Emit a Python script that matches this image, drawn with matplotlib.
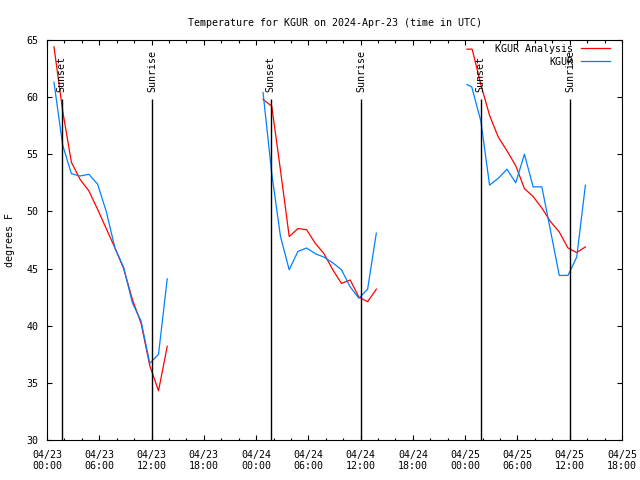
import matplotlib
matplotlib.use('Agg')
import matplotlib.pyplot as plt
import numpy as np
from matplotlib.ticker import MultipleLocator

# ---- data (hours since 2024-04-23 00:00 UTC) ----
nan = np.nan
analysis_hours = [0.8, 1.8, 2.8, 3.8, 4.8, 5.8, 6.8, 7.8, 8.8, 9.8, 10.8, 11.8, 12.8, 13.8, nan,
                  24.8, 25.8, 26.8, 27.8, 28.8, 29.8, 30.8, 31.8, 32.8, 33.8, 34.8, 35.8, 36.8, 37.8, nan,
                  48.2, 48.8, 49.8, 50.8, 51.8, 52.8, 53.8, 54.8, 55.8, 56.8, 57.8, 58.8, 59.8, 60.8, 61.8]
analysis_temp = [64.4, 58.8, 54.3, 52.8, 51.8, 50.2, 48.5, 46.8, 45.0, 42.3, 40.2, 36.5, 34.3, 38.2, nan,
                 59.8, 59.2, 53.6, 47.8, 48.5, 48.4, 47.2, 46.3, 44.9, 43.7, 44.0, 42.5, 42.1, 43.2, nan,
                 64.2, 64.2, 61.1, 58.4, 56.5, 55.3, 54.0, 52.0, 51.3, 50.3, 49.1, 48.2, 46.8, 46.4, 46.9]

obs_hours = [0.8, 1.8, 2.8, 3.8, 4.8, 5.8, 6.8, 7.8, 8.8, 9.8, 10.8, 11.8, 12.8, 13.8, nan,
             24.8, 25.8, 26.8, 27.8, 28.8, 29.8, 30.8, 31.8, 32.8, 33.8, 34.8, 35.8, 36.8, 37.8, nan,
             48.2, 48.75, 49.8, 50.8, 51.8, 52.8, 53.8, 54.8, 55.8, 56.8, 57.8, 58.8, 59.8, 60.8, 61.8]
obs_temp = [61.3, 55.8, 53.3, 53.1, 53.25, 52.4, 50.0, 46.8, 45.1, 42.0, 40.4, 36.7, 37.5, 44.1, nan,
            60.4, 53.3, 47.8, 44.9, 46.5, 46.8, 46.3, 46.0, 45.5, 44.9, 43.4, 42.4, 43.2, 48.1, nan,
            61.1, 60.9, 57.9, 52.3, 52.9, 53.7, 52.5, 55.0, 52.15, 52.15, 48.3, 44.4, 44.4, 46.0, 52.3]

sunset_hours = [1.7, 25.68, 49.78]
sunrise_hours = [12.05, 36.05, 60.02]

tick_hours = [0, 6, 12, 18, 24, 30, 36, 42, 48, 54, 60, 66]
tick_labels = ['04/23\n00:00', '04/23\n06:00', '04/23\n12:00', '04/23\n18:00',
               '04/24\n00:00', '04/24\n06:00', '04/24\n12:00', '04/24\n18:00',
               '04/25\n00:00', '04/25\n06:00', '04/25\n12:00', '04/25\n18:00']
y_ticks = [30, 35, 40, 45, 50, 55, 60, 65]

# ---- style ----
plt.rcParams['font.family'] = ['DejaVu Sans Mono', 'DejaVu Sans']
FS = 7.2

fig = plt.figure(figsize=(6.4, 4.8), dpi=100)
ax = fig.add_axes([47/640, 40/480, 575/640, 400/480])

ax.plot(analysis_hours, analysis_temp, color='#ff0000', lw=0.9, label='KGUR Analysis')
ax.plot(obs_hours, obs_temp, color='#0080ff', lw=0.9, label='KGUR')

ax.vlines(sunset_hours + sunrise_hours, 30, 59.85, colors='black', lw=1.0)
for h in sunset_hours:
    ax.text(h, 60.45, 'Sunset', rotation=90, ha='center', va='bottom', fontsize=FS)
for h in sunrise_hours:
    ax.text(h, 60.45, 'Sunrise', rotation=90, ha='center', va='bottom', fontsize=FS)

ax.set_xlim(0, 66)
ax.set_ylim(30, 65)
ax.set_xticks(tick_hours)
ax.set_xticklabels(tick_labels)
ax.xaxis.set_minor_locator(MultipleLocator(2))
ax.set_yticks(y_ticks)

ax.tick_params(which='both', direction='in', top=True, right=True, labelsize=FS, width=0.8)
ax.tick_params(which='major', length=3.6)
ax.tick_params(which='minor', length=1.8)
ax.tick_params(axis='x', pad=7)
ax.tick_params(axis='y', pad=6)
for s in ax.spines.values():
    s.set_linewidth(0.8)

ax.set_title('Temperature for KGUR on 2024-Apr-23 (time in UTC)', fontsize=FS, pad=10)
ax.set_ylabel('degrees F', fontsize=FS)
ax.yaxis.set_label_coords(-0.055, 0.5)

ax.legend(loc='upper right', bbox_to_anchor=(0.979, 0.99), frameon=False, markerfirst=False,
          fontsize=FS, handlelength=2.9, handletextpad=0.8, labelspacing=0.3,
          borderpad=0, borderaxespad=0)

fig.savefig('out.png', dpi=100)
